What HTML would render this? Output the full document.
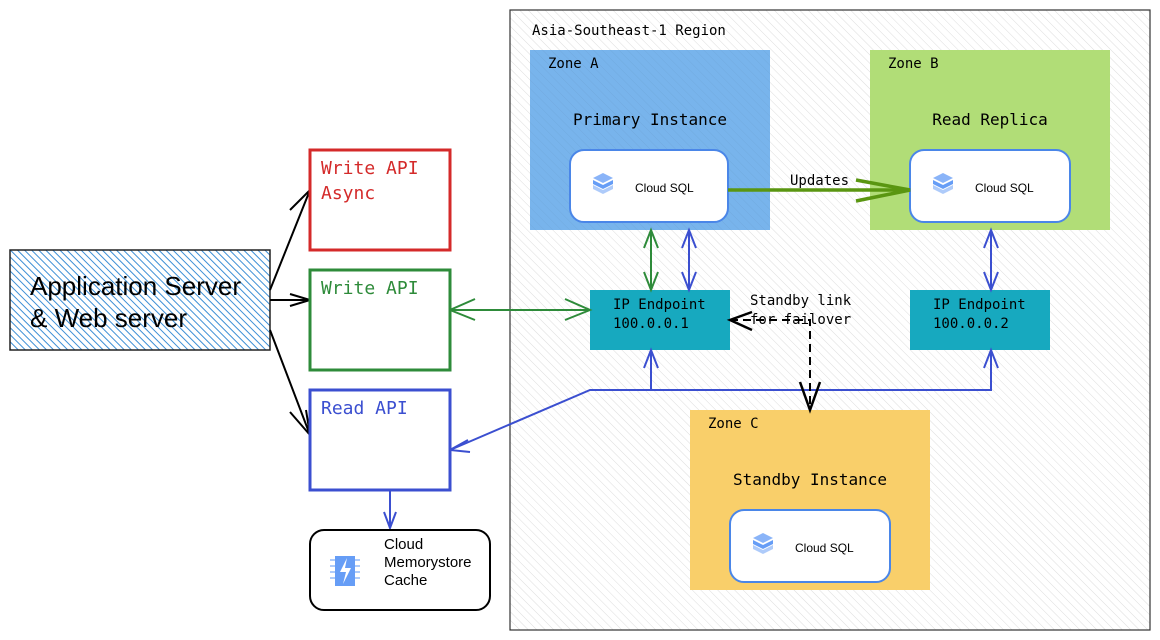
<!DOCTYPE html>
<html><head><style>body{margin:0;background:#fff}svg{display:block}</style></head><body>
<svg width="1160" height="640" viewBox="0 0 1160 640" xmlns="http://www.w3.org/2000/svg" font-family="'DejaVu Sans Mono','Liberation Mono',monospace">
<defs>
<pattern id="h" width="6" height="6" patternUnits="userSpaceOnUse" patternTransform="rotate(-45)"><line x1="0" y1="0" x2="0" y2="6" stroke="#ddd" stroke-width="1"/></pattern>
<pattern id="hb" width="5" height="5" patternUnits="userSpaceOnUse" patternTransform="rotate(-45)"><rect width="5" height="5" fill="#fff"/><line x1="0" y1="0" x2="0" y2="5" stroke="#3d8fd6" stroke-width="2"/></pattern>
<pattern id="hz" width="6" height="6" patternUnits="userSpaceOnUse" patternTransform="rotate(-45)"><line x1="0" y1="0" x2="0" y2="6" stroke="#000" stroke-opacity="0.05" stroke-width="1"/></pattern>
</defs>
<rect x="510" y="10" width="640" height="620" fill="#fff"/>
<rect x="510" y="10" width="640" height="620" fill="url(#h)" stroke="#333" stroke-width="1.2"/>
<text x="532" y="35" font-size="14">Asia-Southeast-1 Region</text>
<rect x="530" y="50" width="240" height="180" fill="#78b4ec"/>
<rect x="870" y="50" width="240" height="180" fill="#b1dd77"/>
<rect x="690" y="410" width="240" height="180" fill="#f9cf6a"/>
<rect x="530" y="50" width="240" height="180" fill="url(#hz)"/>
<text x="548" y="68" font-size="14">Zone A</text>
<text x="888" y="68" font-size="14">Zone B</text>
<text x="708" y="428" font-size="14">Zone C</text>
<text x="650" y="125" font-size="16" text-anchor="middle">Primary Instance</text>
<text x="990" y="125" font-size="16" text-anchor="middle">Read Replica</text>
<text x="810" y="485" font-size="16" text-anchor="middle">Standby Instance</text>
<g fill="#fff" stroke="#4a86e8" stroke-width="2">
<rect x="570" y="150" width="158" height="72" rx="14"/>
<rect x="910" y="150" width="160" height="72" rx="14"/>
<rect x="730" y="510" width="160" height="72" rx="14"/>
</g>
<g font-family="'Liberation Sans',sans-serif" font-size="12">
<text x="635" y="192">Cloud SQL</text><text x="975" y="192">Cloud SQL</text><text x="795" y="552">Cloud SQL</text>
</g>
<g fill="#8ab4f8">
<path d="M593 178 l10-5 10 5 -10 5z"/><path d="M593 185 l10 5 10-5 v4 l-10 5 -10-5z" fill="#aecbfa"/><path d="M593 180 v4 l10 5 10-5 v-4 l-10 5z" fill="#669df6"/>
<path d="M933 178 l10-5 10 5 -10 5z"/><path d="M933 185 l10 5 10-5 v4 l-10 5 -10-5z" fill="#aecbfa"/><path d="M933 180 v4 l10 5 10-5 v-4 l-10 5z" fill="#669df6"/>
<path d="M753 538 l10-5 10 5 -10 5z"/><path d="M753 545 l10 5 10-5 v4 l-10 5 -10-5z" fill="#aecbfa"/><path d="M753 540 v4 l10 5 10-5 v-4 l-10 5z" fill="#669df6"/>
</g>
<rect x="590" y="290" width="140" height="60" fill="#17a9bf"/>
<rect x="910" y="290" width="140" height="60" fill="#17a9bf"/>
<text x="613" y="309" font-size="14">IP Endpoint</text><text x="613" y="328" font-size="14">100.0.0.1</text>
<text x="933" y="309" font-size="14">IP Endpoint</text><text x="933" y="328" font-size="14">100.0.0.2</text>
<!-- updates -->
<line x1="728" y1="190" x2="910" y2="190" stroke="#5a9611" stroke-width="3.5"/>
<path d="M856 180 L910 190 856 201" fill="none" stroke="#5a9611" stroke-width="3.5"/>
<text x="790" y="185" font-size="14">Updates</text>
<!-- vertical links -->
<g fill="none" stroke-width="2">
<g stroke="#2e8b3a"><line x1="651" y1="230" x2="651" y2="290"/><path d="M644 248 L651 230 658 248 M644 272 L651 290 658 272"/></g>
<g stroke="#3b4fd0"><line x1="689" y1="230" x2="689" y2="290"/><path d="M682 248 L689 230 696 248 M682 272 L689 290 696 272"/>
<line x1="991" y1="230" x2="991" y2="290"/><path d="M984 248 L991 230 998 248 M984 272 L991 290 998 272"/>
<path d="M450 450 L590 390 L991 390 L991 350 M651 390 L651 350"/>
<path d="M644 368 L651 350 658 368 M984 368 L991 350 998 368 M468 440 L450 450 470 452"/>
<line x1="390" y1="490" x2="390" y2="528"/><path d="M384 512 L390 528 396 512"/></g>
<g stroke="#2e8b3a"><line x1="450" y1="310" x2="590" y2="310"/><path d="M475 299 L450 310 475 320 M565 299 L590 310 565 320"/></g>
<g stroke="#000"><path d="M730 320 L810 320 L810 410" stroke-dasharray="8 5"/><path d="M752 312 L730 320 752 330 M800 382 L810 410 820 382" stroke-width="2.5"/></g>
</g>
<text x="750" y="305" font-size="14">Standby link</text><text x="750" y="324" font-size="14">for failover</text>
<!-- left -->
<rect x="10" y="250" width="260" height="100" fill="url(#hb)" stroke="#222" stroke-width="1.5"/>
<text x="30" y="295" font-family="'Liberation Sans',sans-serif" font-size="26">Application Server</text>
<text x="30" y="327" font-family="'Liberation Sans',sans-serif" font-size="26">&amp; Web server</text>
<g fill="none" stroke="#000" stroke-width="2">
<path d="M270 290 L310 190 M270 300 L310 300 M270 330 L310 435"/>
<path d="M290 210 L310 190 310 215 M290 294 L310 300 290 306 M290 412 L310 435 306 410"/>
</g>
<rect x="310" y="150" width="140" height="100" fill="#fff" stroke="#d42a2a" stroke-width="3"/>
<rect x="310" y="270" width="140" height="100" fill="#fff" stroke="#2e8b3a" stroke-width="3"/>
<rect x="310" y="390" width="140" height="100" fill="#fff" stroke="#3b4fd0" stroke-width="3"/>
<text x="321" y="174" font-size="18" fill="#d42a2a">Write API</text>
<text x="321" y="199" font-size="18" fill="#d42a2a">Async</text>
<text x="321" y="294" font-size="18" fill="#2e8b3a">Write API</text>
<text x="321" y="414" font-size="18" fill="#3b4fd0">Read API</text>
<rect x="310" y="530" width="180" height="80" rx="14" fill="#fff" stroke="#000" stroke-width="2"/>
<rect x="335" y="556" width="20" height="30" fill="#669df6"/>
<g stroke="#aecbfa" stroke-width="2"><path d="M330 560h5M330 566h5M330 572h5M330 578h5M355 560h5M355 566h5M355 572h5M355 578h5"/></g>
<path d="M347 558 L340 572 346 572 343 584 351 568 345 568z" fill="#fff"/>
<g font-family="'Liberation Sans',sans-serif" font-size="15"><text x="384" y="549">Cloud</text><text x="384" y="567">Memorystore</text><text x="384" y="585">Cache</text></g>
</svg>
</body></html>
